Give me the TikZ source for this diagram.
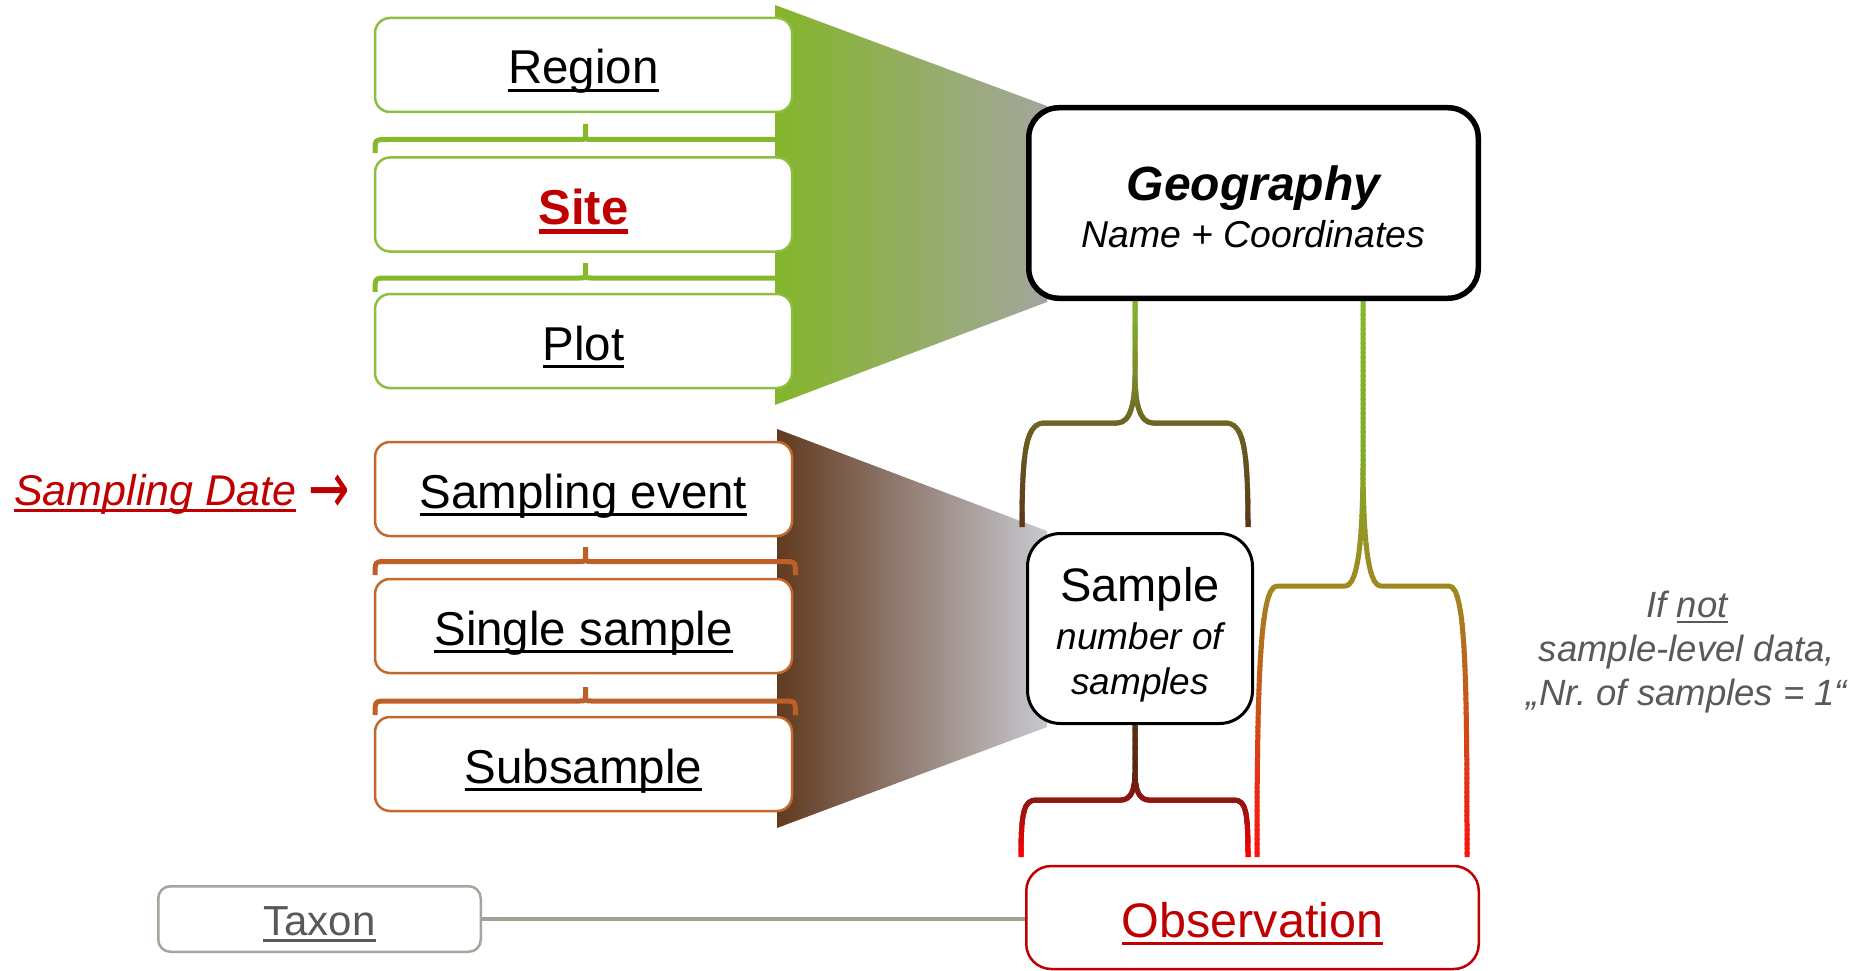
\documentclass[tikz,border=0pt]{standalone}
\usepackage{graphicx}
\usepackage{fontspec}
\setmainfont{Liberation Sans}
\newfontfamily\arrowfont{DejaVu Sans}

% palette
\definecolor{leafedge}{HTML}{8CBF3F}
\definecolor{leafbracecol}{HTML}{85B82B}
\definecolor{leafL}{HTML}{84B52A}
\definecolor{leafM}{HTML}{8EB14E}
\definecolor{leafR}{HTML}{A3A69C}
\definecolor{rustedge}{HTML}{C2692F}
\definecolor{rustbracecol}{HTML}{BE5F28}
\definecolor{barkL}{HTML}{613A1F}
\definecolor{barkM}{HTML}{836F68}
\definecolor{barkR}{HTML}{C8C8D0}
\definecolor{keyred}{HTML}{C00000}
\definecolor{notegray}{HTML}{595959}
\definecolor{taxonedge}{HTML}{A5A59B}
\definecolor{taxonline}{HTML}{A0A096}

% underline drawn as a rule under the word
\newsavebox\ulbox
\newcommand{\ulx}[2][0.065em]{\sbox\ulbox{#2}\rlap{\vrule width\wd\ulbox height -0.1em depth \dimexpr0.1em+#1\relax}\usebox\ulbox}

% small hierarchy brace between two stacked boxes
% #1 style, #2 left x, #3 right x, #4 centre x, #5 bar y, #6 end y, #7 tick y
\newcommand{\stackbrace}[7]{%
  \draw[#1] (#2,#6) .. controls (#2,#5) .. ({#2+12},#5) -- ({#4-6},#5)
      .. controls (#4,#5) .. (#4,{#5-6}) -- (#4,#7)
    (#4,{#5-6}) .. controls (#4,#5) .. ({#4+6},#5) -- ({#3-12},#5)
      .. controls (#3,#5) .. (#3,#6);}

% stroke with a vertical colour ramp through colours rampA..rampD at y = #4..#7
% #1 path, #2/#3 horizontal clip range
\newcommand{\rampstroke}[7]{%
  \foreach \k in {0,...,119}{%
    \pgfmathsetmacro\ya{#4+(#7-#4)/120*\k}%
    \pgfmathsetmacro\yb{#4+(#7-#4)/120*(\k+1)+0.6}%
    \pgfmathsetmacro\ym{#4+(#7-#4)/120*(\k+0.5)}%
    \pgfmathsetmacro\pa{max(0,min(100,(\ym-#4)/(#5-#4)*100))}%
    \pgfmathsetmacro\pb{max(0,min(100,(\ym-#5)/(#6-#5)*100))}%
    \pgfmathsetmacro\pc{max(0,min(100,(\ym-#6)/(#7-#6)*100))}%
    \colorlet{mixA}{rampB!\pa!rampA}%
    \colorlet{mixB}{rampC!\pb!mixA}%
    \colorlet{mixC}{rampD!\pc!mixB}%
    \begin{scope}
      \clip (#2,\ya) rectangle (#3,\yb);
      \draw[rampline, draw=mixC] #1;
    \end{scope}}}

\tikzset{
  levelbox/.style={draw, line width=2.5pt, fill=white, rounded corners=15pt,
    minimum width=417pt, minimum height=94pt, inner sep=0pt,
    text height=38pt, text depth=0pt, font=\fontsize{47.5}{50}\selectfont},
  leafbox/.style={levelbox, draw=leafedge},
  rustbox/.style={levelbox, draw=rustedge},
  leafbrace/.style={draw=leafbracecol, line width=5pt},
  rustbrace/.style={draw=rustbracecol, line width=5pt},
  rampline/.style={line width=5pt, line join=round},
}

\begin{document}
\begin{tikzpicture}[x=1pt,y=-1pt]
\useasboundingbox (0,0) rectangle (1858,971);
\fill[white] (0,0) rectangle (1858,971);

% spatial hierarchy
\stackbrace{leafbrace}{375}{792}{585.5}{139.5}{153}{124}
\stackbrace{leafbrace}{375}{792}{585.5}{278}{292}{263}
\shade[left color=leafL, middle color=leafM, right color=leafR]
  (775,5) -- (1047,106) -- (1047,302) -- (775,405) -- cycle;
\node[leafbox] (region) at (583.5,65) {\ulx{Region}};
\node[leafbox, text height=39pt, text=keyred, font=\fontsize{49}{50}\selectfont\bfseries]
  (site) at (583.5,204.5) {\ulx[0.1em]{Site}};
\node[leafbox] (plot) at (583.5,341) {\ulx{Plot}};

% sampling hierarchy
\shade[left color=barkL, middle color=barkM, right color=barkR]
  (777,429) -- (1047,531) -- (1047,727) -- (777,828) -- cycle;
\stackbrace{rustbrace}{375}{795.5}{585.5}{561.5}{575}{547}
\stackbrace{rustbrace}{375}{795.5}{585.5}{701}{715}{687}
\node[rustbox] (event) at (583.5,489) {\ulx{Sampling event}};
\node[rustbox] (single) at (583.5,626) {\ulx{Single sample}};
\node[rustbox] (subsample) at (583.5,764) {\ulx{Subsample}};

\node[anchor=base west, inner sep=0pt, text=keyred, font=\fontsize{43}{45}\selectfont]
  (sdate) at (14,505) {\itshape\ulx{Sampling Date}\upshape\ \raisebox{-0.2em}{\scalebox{1.15}[1.7]{\arrowfont →}}};

% Geography -> Sample
\definecolor{rampA}{HTML}{84BA2C}\definecolor{rampB}{HTML}{7D8C2A}
\definecolor{rampC}{HTML}{6C6424}\definecolor{rampD}{HTML}{5D3519}
\rampstroke{(1022,527) .. controls (1022,445) and (1027,423) .. (1045,423) -- (1117,423)
    .. controls (1130,423) and (1135,405) .. (1135,373) -- (1135,296)
  (1135,373) .. controls (1135,405) and (1140,423) .. (1153,423) -- (1225,423)
    .. controls (1243,423) and (1248,445) .. (1248,527)}{1012}{1258}{296}{373}{423}{527.5}

% Geography -> Observation
\definecolor{rampA}{HTML}{84BA2C}\definecolor{rampB}{HTML}{7FAD2A}
\definecolor{rampC}{HTML}{9F8921}\definecolor{rampD}{HTML}{FF1010}
\rampstroke{(1257,857) .. controls (1257,680) and (1260,586) .. (1277,586) -- (1345,586)
    .. controls (1358,586) and (1363,540) .. (1363,460) -- (1363,296)
  (1363,460) .. controls (1363,540) and (1368,586) .. (1381,586) -- (1449,586)
    .. controls (1466,586) and (1467,680) .. (1467,857)}{1248}{1476}{296}{440}{586}{857.5}

% Sample -> Observation
\definecolor{rampA}{HTML}{5A2E14}\definecolor{rampB}{HTML}{5E2412}
\definecolor{rampC}{HTML}{8C1610}\definecolor{rampD}{HTML}{FF0000}
\rampstroke{(1021,857) .. controls (1021,812) and (1024,800) .. (1036,800) -- (1121,800)
    .. controls (1131,800) and (1135,790) .. (1135,772) -- (1135,723)
  (1135,772) .. controls (1135,790) and (1139,800) .. (1149,800) -- (1234,800)
    .. controls (1246,800) and (1248,812) .. (1248,857)}{1012}{1258}{723}{772}{800}{857.5}

% main entities
\node[draw=black, line width=5.5pt, fill=white, rounded corners=30pt,
  minimum width=449.5pt, minimum height=190.5pt, inner sep=0pt, align=center,
  font=\fontsize{37.4}{47}\selectfont\itshape]
  (geo) at (1253.5,203) {\rule{0pt}{43pt}{\fontsize{48}{47}\selectfont\bfseries Geography}\\Name + Coordinates};
\node[draw=black, line width=3pt, fill=white, rounded corners=33pt,
  minimum width=225pt, minimum height=190pt, inner sep=0pt, align=center,
  text depth=0pt, font=\fontsize{37}{45}\selectfont\itshape]
  (sample) at (1140,628.5) {\rule{0pt}{39pt}{\upshape\fontsize{47}{45}\selectfont Sample}\\[3pt]number of\\samples};
\node[draw=keyred, line width=2.5pt, fill=white, rounded corners=25pt,
  minimum width=452.5pt, minimum height=103pt, inner sep=0pt,
  text height=39pt, text depth=0pt, text=keyred, font=\fontsize{48.5}{50}\selectfont]
  (obs) at (1252.5,917.5) {\ulx{Observation}};
\node[draw=taxonedge, line width=2.5pt, fill=white, rounded corners=12pt,
  minimum width=322.5pt, minimum height=65.5pt, inner sep=0pt,
  text height=32pt, text depth=0pt, text=notegray, font=\fontsize{42}{44}\selectfont]
  (taxon) at (319.5,919) {\ulx{Taxon}};
\draw[taxonline, line width=4.5pt] (taxon.east) -- (taxon.east -| obs.west);

\node[align=center, inner sep=0pt, text depth=0pt, text=notegray,
  font=\fontsize{36.5}{44}\selectfont\itshape]
  (note) at (1687,648) {If \ulx{not}\\sample-level data,\\„Nr.\ of samples = 1“};
\end{tikzpicture}
\end{document}
